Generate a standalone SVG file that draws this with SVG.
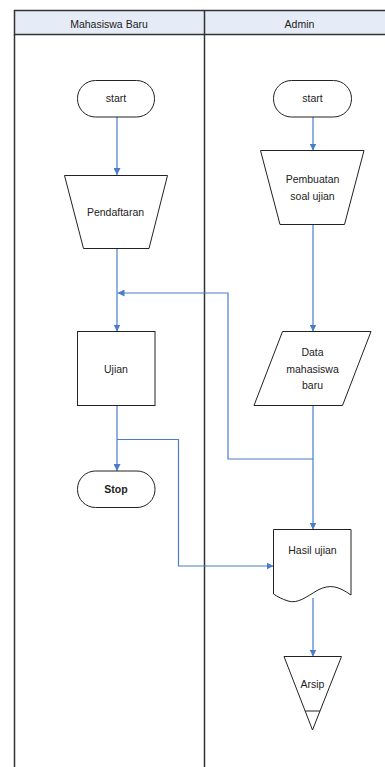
<svg xmlns="http://www.w3.org/2000/svg" width="385" height="767" viewBox="0 0 385 767">
<style>
.lane{fill:none;stroke:#333;stroke-width:1.5}
.hdr{fill:#e6ecf7;stroke:#333;stroke-width:1.5}
.node{fill:#fff;stroke:#222;stroke-width:1}
.t{font-family:"Liberation Sans",Arial,sans-serif;font-size:10.5px;fill:#222;text-anchor:middle}
.c{fill:none;stroke:#4a7ccc;stroke-width:1.2}
</style>
<defs>
<marker id="ah" viewBox="0 0 10 10" refX="10" refY="5" markerWidth="7" markerHeight="7" markerUnits="userSpaceOnUse" orient="auto">
<path d="M0,0 L10,5 L0,10 z" fill="#4a7ccc"/>
</marker>
</defs>
<g id="lanes">
<rect class="hdr" x="14.5" y="10.5" width="390" height="24"/>
<line class="lane" x1="14.5" y1="34.5" x2="14.5" y2="780"/>
<line class="lane" x1="204.5" y1="10.5" x2="204.5" y2="780"/>
<text class="t" x="109" y="28">Mahasiswa Baru</text>
<text class="t" x="299.5" y="28">Admin</text>
</g>
<g id="connectors">
<line class="c" x1="117" y1="117" x2="117" y2="175" marker-end="url(#ah)"/>
<line class="c" x1="313" y1="117" x2="313" y2="150.5" marker-end="url(#ah)"/>
<line class="c" x1="117" y1="248.5" x2="117" y2="331.5" marker-end="url(#ah)"/>
<line class="c" x1="313" y1="224.5" x2="313" y2="331.5" marker-end="url(#ah)"/>
<line class="c" x1="313" y1="405.5" x2="313" y2="529.5" marker-end="url(#ah)"/>
<polyline class="c" points="313,459 228,459 228,293 117.5,293" marker-end="url(#ah)"/>
<line class="c" x1="117" y1="405.5" x2="117" y2="471" marker-end="url(#ah)"/>
<polyline class="c" points="117,439.5 178.5,439.5 178.5,566 273.5,566" marker-end="url(#ah)"/>
<line class="c" x1="313" y1="598" x2="313" y2="656.5" marker-end="url(#ah)"/>
</g>
<g id="start1">
<rect class="node" x="77.5" y="80.5" width="77" height="36.5" rx="18" ry="18"/>
<text class="t" x="116" y="102">start</text>
</g>
<g id="start2">
<rect class="node" x="273.5" y="80.5" width="78" height="36.5" rx="18" ry="18"/>
<text class="t" x="312.5" y="102">start</text>
</g>
<g id="pendaftaran">
<polygon class="node" points="64.5,175.5 167.5,175.5 149,248.5 83.5,248.5"/>
<text class="t" x="115.5" y="215.5">Pendaftaran</text>
</g>
<g id="pembuatan">
<polygon class="node" points="260.5,150.5 364,150.5 344.5,224.5 280,224.5"/>
<text class="t" x="312.5" y="183">Pembuatan</text>
<text class="t" x="312.5" y="199.5">soal ujian</text>
</g>
<g id="ujian">
<rect class="node" x="77.5" y="331.5" width="77.5" height="74"/>
<text class="t" x="116" y="373">Ujian</text>
</g>
<g id="data">
<polygon class="node" points="282.5,331.5 371,331.5 342.5,405.5 254,405.5"/>
<text class="t" x="312.5" y="355.5">Data</text>
<text class="t" x="312.5" y="373">mahasiswa</text>
<text class="t" x="312.5" y="389">baru</text>
</g>
<g id="stop">
<rect class="node" x="77.5" y="471" width="77.5" height="36.5" rx="18" ry="18"/>
<text class="t" x="116" y="493" font-weight="bold">Stop</text>
</g>
<g id="hasil">
<path class="node" d="M273.5,529.5 H351 V595 C338,586 330,584 318,590 C306,597 298,604 288,601 C282,599 278,597 273.5,594 Z"/>
<text class="t" x="312.5" y="553.5">Hasil ujian</text>
</g>
<g id="arsip">
<polygon class="node" points="284,656.5 341.5,656.5 312.5,730"/>
<line class="node" x1="305" y1="711" x2="320" y2="711"/>
<text class="t" x="312.5" y="688">Arsip</text>
</g>
</svg>
